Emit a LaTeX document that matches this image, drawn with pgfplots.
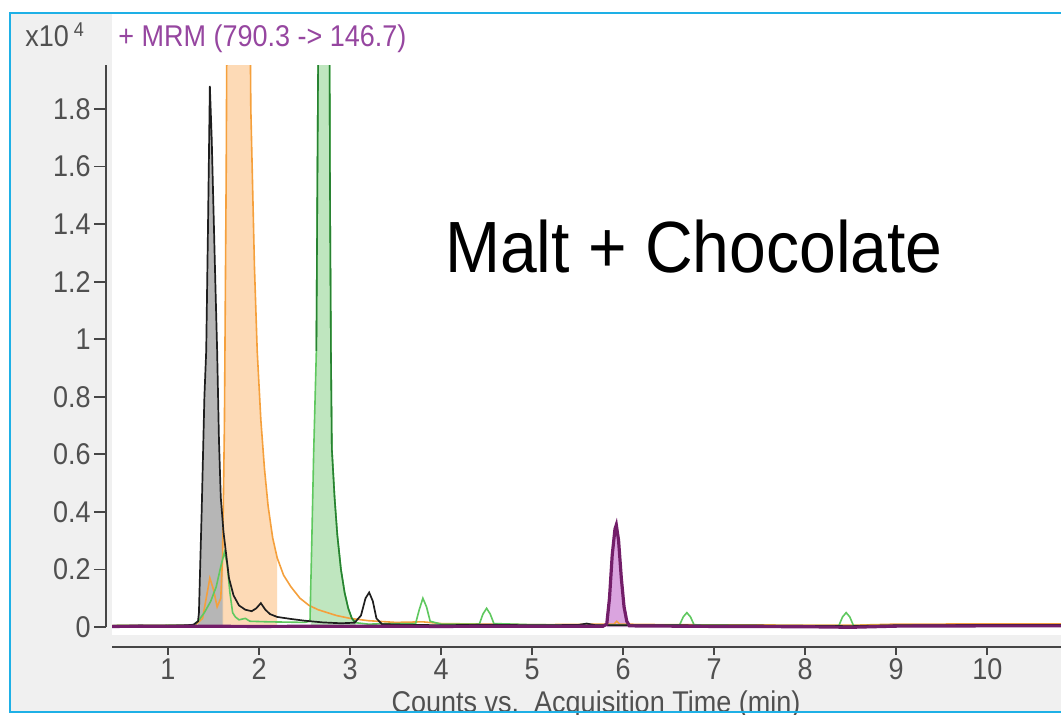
\documentclass[border=0pt]{standalone}
\usepackage{fontspec}
\setmainfont{Liberation Sans}
\newfontfamily\uifont{Liberation Sans}[FakeStretch=0.9]
\newfontfamily\bigfont{Liberation Sans}[FakeStretch=0.91]
\usepackage{pgfplots}
\pgfplotsset{compat=1.18}
\definecolor{bordercyan}{RGB}{30,176,230}
\definecolor{panelgray}{RGB}{240,240,240}
\definecolor{axgray}{RGB}{70,70,70}
\definecolor{lblgray}{RGB}{80,80,80}
\definecolor{mrmpurple}{RGB}{150,70,160}
\definecolor{orgline}{RGB}{245,160,60}
\definecolor{orgfill}{RGB}{253,215,175}
\definecolor{grnline}{RGB}{95,200,95}
\definecolor{grndark}{RGB}{40,130,50}
\definecolor{grnfill}{RGB}{185,228,185}
\definecolor{blkline}{RGB}{30,30,30}
\definecolor{grayfill}{RGB}{170,170,170}
\definecolor{purline}{RGB}{115,30,105}
\definecolor{purfill}{RGB}{215,155,220}
\begin{document}
\begin{tikzpicture}
\useasboundingbox (0,0) rectangle (530.5pt,-357pt);
\clip (0,0) rectangle (530.5pt,-357pt);
\begin{scope}[x=0.5pt,y=-0.5pt]
\fill[panelgray] (10,13) rectangle (1075,712);
\fill[white] (112,14) rectangle (1075,635);
\end{scope}

% main data axis
\begin{axis}[at={(56pt,-317.5pt)}, anchor=south west, scale only axis,
  width=474.5pt, height=285pt, xmin=0.385, xmax=10.81, ymin=-0.0278, ymax=1.953,
  axis lines=none, clip=true]
% fills
\addplot[draw=none, fill=grayfill, fill opacity=0.85] coordinates {
(1.33,0) (1.34,0.05) (1.37,0.4) (1.40,0.8) (1.42,0.96) (1.44,1.4) (1.46,1.88) (1.48,1.7)
(1.50,1.45) (1.52,1.2) (1.54,0.96) (1.56,0.65) (1.58,0.45) (1.61,0.33) (1.61,0)} \closedcycle;
\addplot[draw=none, fill=orgfill, fill opacity=0.9] coordinates {
(1.60,0) (1.60,0.25) (1.62,0.7) (1.64,1.6) (1.66,3.0) (1.72,4.5) (1.80,5) (1.87,4) (1.89,2.6)
(1.91,1.8) (1.95,1.25) (1.98,0.96) (2.02,0.72) (2.06,0.55) (2.10,0.42) (2.15,0.31) (2.20,0.24) (2.20,0)} \closedcycle;
\addplot[draw=none, fill=grnfill, fill opacity=0.9] coordinates {
(2.57,0) (2.57,0.02) (2.58,0.3) (2.60,0.6) (2.63,0.96) (2.65,2.0) (2.67,4.5) (2.75,4.5) (2.77,2.5)
(2.78,1.5) (2.79,0.96) (2.80,0.62) (2.83,0.45) (2.86,0.32) (2.90,0.2) (2.94,0.12) (2.98,0.065)
(3.02,0.03) (3.06,0.015) (3.06,0)} \closedcycle;
\addplot[draw=none, fill=purfill, fill opacity=0.9] coordinates {
(5.82,0) (5.82,0.01) (5.85,0.1) (5.88,0.25) (5.91,0.34) (5.925,0.355) (5.95,0.3) (5.98,0.17)
(6.01,0.07) (6.04,0.02) (6.07,0.004) (6.07,0)} \closedcycle;
% orange line
\addplot[orgline, line width=0.8pt] coordinates {
(0.385,0.005) (1.0,0.006) (1.3,0.007) (1.38,0.03) (1.42,0.1) (1.46,0.17) (1.50,0.13) (1.54,0.07)
(1.58,0.1) (1.60,0.25) (1.62,0.7) (1.64,1.6) (1.66,3.0) (1.72,4.5) (1.80,5) (1.87,4) (1.89,2.6)
(1.91,1.8) (1.95,1.25) (1.98,0.96) (2.02,0.72) (2.06,0.55) (2.10,0.42) (2.15,0.31) (2.20,0.24)
(2.27,0.18) (2.35,0.14) (2.45,0.1) (2.55,0.075) (2.65,0.06) (2.75,0.05) (2.85,0.04) (3.0,0.03)
(3.2,0.022) (3.5,0.016) (3.8,0.018) (4.0,0.012) (4.5,0.01) (5.0,0.008) (5.9,0.01) (5.93,0.02)
(5.96,0.01) (6.5,0.008) (7.5,0.007) (8.5,0.006) (9.0,0.01) (10.81,0.011)};
% green line
\addplot[grnline, line width=0.8pt] coordinates {
(0.385,0.005) (1.0,0.006) (1.28,0.006) (1.33,0.02) (1.40,0.05) (1.47,0.09) (1.53,0.14) (1.58,0.21)
(1.62,0.26) (1.65,0.22) (1.68,0.12) (1.71,0.05) (1.74,0.035) (1.78,0.025) (1.85,0.03) (1.90,0.02)
(2.1,0.018) (2.3,0.017) (2.5,0.016) (2.56,0.02) (2.58,0.3) (2.60,0.6) (2.63,0.96) (2.65,2.0)
(2.67,4.5) (2.75,4.5) (2.77,2.5) (2.78,1.5) (2.79,0.96) (2.80,0.62) (2.83,0.45) (2.86,0.32)
(2.90,0.2) (2.94,0.12) (2.98,0.065) (3.02,0.03) (3.06,0.015) (3.2,0.01) (3.5,0.012) (3.72,0.012)
(3.76,0.06) (3.80,0.10) (3.84,0.07) (3.88,0.02) (4.0,0.01) (4.42,0.01) (4.46,0.045) (4.50,0.065)
(4.54,0.045) (4.58,0.012) (5.0,0.008) (6.0,0.006) (6.62,0.007) (6.66,0.035) (6.70,0.05) (6.74,0.035)
(6.78,0.007) (7.5,0.005) (8.37,0.005) (8.41,0.035) (8.45,0.05) (8.49,0.035) (8.53,0.005) (9.5,0.005)
(10.81,0.005)};
% dark green outline of integrated peak
\addplot[grndark, line width=0.8pt] coordinates {
(2.63,0.96) (2.65,2.0) (2.67,4.5) (2.75,4.5) (2.77,2.5)
(2.78,1.5) (2.79,0.96) (2.80,0.62) (2.83,0.45) (2.86,0.32) (2.90,0.2) (2.94,0.12) (2.98,0.065)
(3.02,0.03) (3.06,0.015)};
% black line
\addplot[blkline, line width=0.85pt] coordinates {
(0.385,0.004) (0.7,0.005) (1.0,0.004) (1.2,0.006) (1.28,0.008) (1.33,0.02) (1.34,0.05) (1.37,0.4)
(1.40,0.8) (1.42,0.96) (1.44,1.4) (1.46,1.88) (1.48,1.7) (1.50,1.45) (1.52,1.2) (1.54,0.96)
(1.56,0.65) (1.58,0.45) (1.61,0.33) (1.64,0.25) (1.67,0.17) (1.72,0.11) (1.78,0.075) (1.85,0.06)
(1.92,0.055) (1.97,0.065) (2.02,0.083) (2.07,0.06) (2.12,0.045) (2.2,0.035) (2.35,0.028) (2.5,0.022)
(2.7,0.016) (2.9,0.013) (3.05,0.015) (3.12,0.04) (3.17,0.1) (3.21,0.12) (3.25,0.09) (3.29,0.03)
(3.35,0.01) (3.6,0.008) (4.0,0.006) (4.5,0.008) (5.0,0.006) (5.5,0.007) (5.6,0.012) (5.7,0.006)
(6.5,0.006) (7.5,0.005) (8.5,0.003) (9.0,0.006) (10.0,0.007) (10.81,0.007)};
% purple line
\addplot[purline, line width=1.6pt] coordinates {
(0.385,0.002) (1.0,0.003) (2.0,0.002) (3.0,0.003) (4.0,0.002) (5.0,0.003) (5.78,0.003) (5.82,0.01)
(5.85,0.1) (5.88,0.25) (5.91,0.34) (5.925,0.355) (5.95,0.3) (5.98,0.17) (6.01,0.07) (6.04,0.02)
(6.07,0.004) (7.0,0.002) (8.0,0.001) (8.5,-0.001) (9.0,0.003) (10.0,0.004) (10.81,0.004)};
\end{axis}

% y axis
\begin{axis}[at={(53pt,-313.5pt)}, anchor=south west, scale only axis,
  width=10pt, height=281pt, xmin=0, xmax=1, ymin=0, ymax=1.953,
  axis y line=left, axis x line=none, axis line style={-, axgray, line width=0.9pt},
  ytick={0,0.2,0.4,0.6,0.8,1,1.2,1.4,1.6,1.8},
  yticklabels={0,0.2,0.4,0.6,0.8,1,1.2,1.4,1.6,1.8},
  tick align=outside, major tick length=6pt, tick style={axgray, line width=0.9pt},
  yticklabel style={font=\uifont\fontsize{15pt}{18pt}\selectfont, text=lblgray, inner sep=1.5pt},
  /pgf/number format/assume math mode=true]
\end{axis}

% x axis
\begin{axis}[at={(56pt,-323.5pt)}, anchor=south west, scale only axis,
  width=474.5pt, height=5pt, xmin=0.385, xmax=10.81, ymin=0, ymax=1,
  axis x line=bottom, axis y line=none, axis line style={-, axgray, line width=0.9pt},
  xtick={1,2,3,4,5,6,7,8,9,10},
  xticklabels={1,2,3,4,5,6,7,8,9,10},
  tick align=outside, major tick length=4pt, tick style={axgray, line width=0.9pt},
  xticklabel style={font=\uifont\fontsize{15pt}{18pt}\selectfont, text=lblgray, inner sep=1.5pt},
  /pgf/number format/assume math mode=true]
\end{axis}

\begin{scope}[x=0.5pt,y=-0.5pt]
\node[anchor=base, inner sep=0, font=\bigfont\fontsize{36.3pt}{40pt}\selectfont] at (694,272) {Malt + Chocolate};
\node[anchor=base west, inner sep=0, font=\uifont\fontsize{15pt}{18pt}\selectfont, text=lblgray] at (25,46) {x10\,\raisebox{5pt}{\fontsize{10pt}{12pt}\selectfont 4}};
\node[anchor=base west, inner sep=0, font=\uifont\fontsize{15pt}{18pt}\selectfont, text=mrmpurple] at (118,46) {+ MRM (790.3 -> 146.7)};
\node[anchor=base, inner sep=0, font=\uifont\fontsize{15pt}{18pt}\selectfont, text=lblgray] at (596,712) {Counts vs.\ \ Acquisition Time (min)};
\draw[bordercyan, line width=1.25pt] (10,13) rectangle (1075,712);
\end{scope}
\end{tikzpicture}
\end{document}
